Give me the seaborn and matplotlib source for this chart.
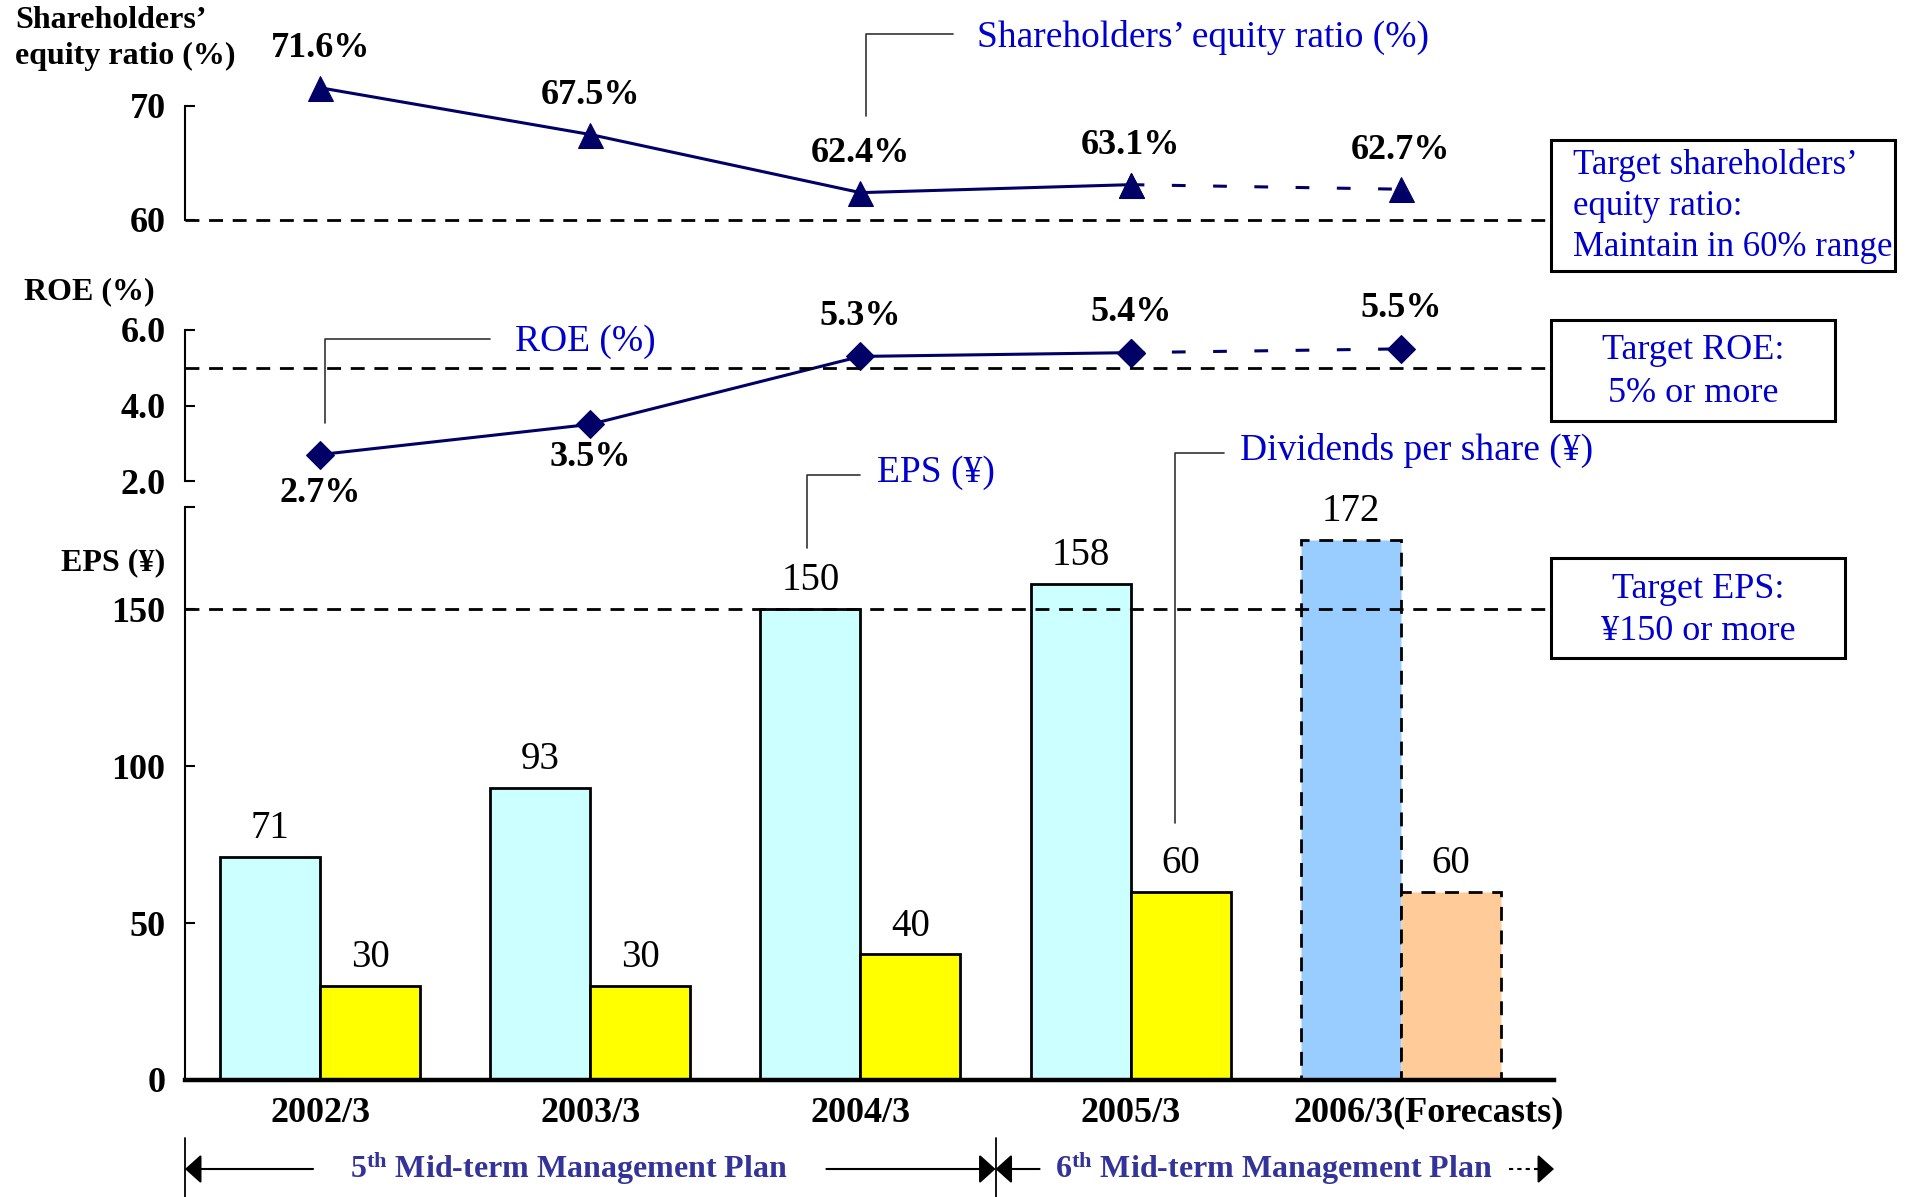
import numpy as np
import pandas as pd
import matplotlib
matplotlib.use("Agg")
import matplotlib.pyplot as plt
import seaborn as sns
from matplotlib.lines import Line2D
from matplotlib.patches import Rectangle, FancyArrowPatch
from matplotlib.transforms import blended_transform_factory, ScaledTranslation

# ---- data -------------------------------------------------------------
years = ["2002/3", "2003/3", "2004/3", "2005/3", "2006/3(Forecasts)"]
equity_ratio = [71.6, 67.5, 62.4, 63.1, 62.7]   # %
roe = [2.7, 3.5, 5.3, 5.4, 5.5]                 # %
eps = [71, 93, 150, 158, 172]                   # yen
dividends = [30, 30, 40, 60, 60]                # yen
target_equity = 60
target_roe = 5.0
target_eps = 150

# ---- style ------------------------------------------------------------
sns.set_theme(style="white")
plt.rcParams["font.family"] = ["Liberation Serif", "DejaVu Serif"]
plt.rcParams["mathtext.fontset"] = "custom"
plt.rcParams["mathtext.rm"] = "Liberation Serif"
plt.rcParams["mathtext.bf"] = "Liberation Serif:bold"
plt.rcParams["mathtext.it"] = "Liberation Serif:italic"
for key in ("text.color", "axes.labelcolor", "xtick.color", "ytick.color"):
    plt.rcParams[key] = "black"

NAVY = "#000066"
BLUE = "#0000CC"
PLAN = "#333399"
DASH = (0, (5, 3.5))

W, H = 1908, 1197
fig = plt.figure(figsize=(W / 100, H / 100), dpi=100)


def fx(px):
    return px / W


def fy(py):
    return 1 - py / H


def axes_box(left, right, top, bottom):
    return [fx(left), fy(bottom), fx(right) - fx(left), fy(top) - fy(bottom)]


ax_eq = fig.add_axes(axes_box(185, 1554, 106, 220))
ax_roe = fig.add_axes(axes_box(185, 1554, 330, 481))
ax_eps = fig.add_axes(axes_box(185, 1554, 507, 1080))

XLIM = (-0.5, 4.567)
x = np.arange(len(years))

# ---- EPS / dividends bars ----------------------------------------------
df = pd.DataFrame({
    "year": years * 2,
    "metric": ["EPS"] * len(years) + ["Dividends"] * len(years),
    "value": eps + dividends,
})
sns.barplot(data=df, x="year", y="value", hue="metric",
            hue_order=["EPS", "Dividends"],
            palette={"EPS": "#CCFFFF", "Dividends": "#FFFF00"},
            width=0.74, gap=0, edgecolor="black", linewidth=2,
            saturation=1, legend=False, ax=ax_eps)

for cont, vals, fc in zip(ax_eps.containers, [eps, dividends], ["#99CCFF", "#FFCC99"]):
    ax_eps.bar_label(cont, labels=[str(v) for v in vals], padding=7, fontsize=28,
                     color="black")
    last = cont[-1]                      # forecast year
    last.set_facecolor(fc)
    last.set_linestyle(DASH)

ax_eps.axhline(target_eps, color="black", lw=2, ls=DASH, zorder=3)
ax_eps.set_xlim(*XLIM)
ax_eps.set_ylim(0, 182.5)
ax_eps.set_xlabel("")
ax_eps.set_ylabel("")
for side in ("top", "right"):
    ax_eps.spines[side].set_visible(False)
ax_eps.spines["left"].set_linewidth(1.5)
ax_eps.spines["left"].set_color("black")
ax_eps.spines["bottom"].set_linewidth(3.2)
ax_eps.spines["bottom"].set_color("black")
ax_eps.set_yticks([0, 50, 100, 150, 182.5])
ax_eps.set_yticklabels(["0", "50", "100", "150", ""], fontweight="bold", fontsize=26)
ax_eps.tick_params(axis="y", left=True, direction="in", length=7, width=1.5,
                   pad=14, color="black")
ax_eps.set_xticks(x)
ax_eps.set_xticklabels(years, fontweight="bold", fontsize=26)
ax_eps.tick_params(axis="x", length=0, pad=12)
fc_label = ax_eps.get_xticklabels()[-1]
fc_label.set_transform(fc_label.get_transform()
                       + ScaledTranslation(0.28, 0, fig.dpi_scale_trans))


# ---- line panels -------------------------------------------------------
def line_panel(ax, values, marker, ms, ylim, ticks, ticklabels, target, offsets):
    sns.lineplot(x=x[:4], y=values[:4], ax=ax, color=NAVY, lw=2.2, marker=marker,
                 markersize=ms, markeredgecolor=NAVY, clip_on=False)
    sns.lineplot(x=x[3:], y=values[3:], ax=ax, color=NAVY, lw=2.2,
                 linestyle=(0, (4.5, 9)), marker=marker, markersize=ms,
                 markeredgecolor=NAVY, clip_on=False)
    ax.axhline(target, color="black", lw=2, ls=DASH, clip_on=False)
    for xi, v, off in zip(x, values, offsets):
        ax.annotate(f"{v}%", (xi, v), xytext=(0, off), textcoords="offset points",
                    ha="center", va="center", fontsize=26, fontweight="bold",
                    annotation_clip=False)
    ax.set_xlim(*XLIM)
    ax.set_ylim(*ylim)
    ax.set_xticks([])
    for side in ("top", "right", "bottom"):
        ax.spines[side].set_visible(False)
    ax.spines["left"].set_linewidth(1.5)
    ax.spines["left"].set_color("black")
    ax.set_yticks(ticks)
    ax.set_yticklabels(ticklabels, fontweight="bold", fontsize=26)
    ax.tick_params(axis="y", left=True, direction="in", length=7, width=1.5,
                   pad=14, color="black")
    ax.set_xlabel("")
    ax.set_ylabel("")
    ax.patch.set_alpha(0)


line_panel(ax_eq, equity_ratio, "^", 18, (60, 70), [60, 70], ["60", "70"],
           target_equity, [28, 28, 28, 28, 28])
line_panel(ax_roe, roe, "D", 14, (2, 6), [2, 4, 6], ["2.0", "4.0", "6.0"],
           target_roe, [-28, -24, 29, 29, 29])


# ---- figure-level text, callouts and target boxes -----------------------
def fig_line(points, **kw):
    fig.add_artist(Line2D([fx(p[0]) for p in points], [fy(p[1]) for p in points],
                          transform=fig.transFigure, **kw))


def fig_text(px, py, s, **kw):
    fig.text(fx(px), fy(py), s, **kw)


fig_text(15, 6, "Shareholders’\nequity ratio (%)", ha="left", va="top",
         fontsize=23, fontweight="bold", linespacing=1.3)
fig_text(24, 292, "ROE (%)", ha="left", va="center", fontsize=23, fontweight="bold")
fig_text(61, 563, "EPS (¥)", ha="left", va="center", fontsize=23, fontweight="bold")

callout_kw = dict(color="#333333", lw=1.2)
fig_line([(866, 116), (866, 34), (953, 34)], **callout_kw)
fig_text(977, 37, "Shareholders’ equity ratio (%)", ha="left", va="center",
         fontsize=27, color=BLUE)
fig_line([(325, 423), (325, 339), (490, 339)], **callout_kw)
fig_text(515, 342, "ROE (%)", ha="left", va="center", fontsize=27, color=BLUE)
fig_line([(807, 548), (807, 475), (860, 475)], **callout_kw)
fig_text(877, 473, "EPS (¥)", ha="left", va="center", fontsize=27, color=BLUE)
fig_line([(1175, 823), (1175, 453), (1224, 453)], **callout_kw)
fig_text(1240, 450, "Dividends per share (¥)", ha="left", va="center",
         fontsize=27, color=BLUE)


def target_box(l, t, r, b):
    fig.add_artist(Rectangle((fx(l), fy(b)), fx(r) - fx(l), fy(t) - fy(b),
                             transform=fig.transFigure, facecolor="white",
                             edgecolor="black", lw=2.2))


target_box(1551, 140, 1895, 271)
fig_text(1573, 206, "Target shareholders’\nequity ratio:\nMaintain in 60% range",
         ha="left", va="center", fontsize=25, color=BLUE, linespacing=1.32)
target_box(1551, 320, 1835, 421)
fig_text(1693, 372, "Target ROE:\n5% or more", ha="center", va="center",
         fontsize=26, color=BLUE, linespacing=1.38)
target_box(1551, 558, 1845, 658)
fig_text(1698, 610, "Target EPS:\n¥150 or more", ha="center", va="center",
         fontsize=26, color=BLUE, linespacing=1.36)

# ---- mid-term plan periods ------------------------------------------------
tr = blended_transform_factory(ax_eps.transData, fig.transFigure)
y_arr = fy(1169)
for xv in (-0.5, 2.5):
    fig.add_artist(Line2D([xv, xv], [fy(1138), fy(1197)], transform=tr,
                          color="black", lw=1.3))


def plan_arrow(x0, x1):
    fig.add_artist(FancyArrowPatch((x0, y_arr), (x1, y_arr), transform=tr,
                                   arrowstyle="-|>,head_length=0.5,head_width=0.45",
                                   mutation_scale=20, color="black", lw=1.5,
                                   shrinkA=0, shrinkB=0))


plan_arrow(-0.026, -0.5)
plan_arrow(1.874, 2.5)
plan_arrow(2.663, 2.5)
fig.add_artist(Line2D([4.40, 4.52], [y_arr, y_arr], transform=tr, color="black",
                      lw=1.5, ls=(0, (2, 2))))
plan_arrow(4.50, 4.567)

fig.text(0.92, y_arr, r"$\mathbf{5^{th}}$ Mid-term Management Plan", transform=tr,
         ha="center", va="center", fontsize=23, fontweight="bold", color=PLAN)
fig.text(3.53, y_arr, r"$\mathbf{6^{th}}$ Mid-term Management Plan", transform=tr,
         ha="center", va="center", fontsize=23, fontweight="bold", color=PLAN)

fig.savefig("out.png", dpi=100, facecolor="white")
